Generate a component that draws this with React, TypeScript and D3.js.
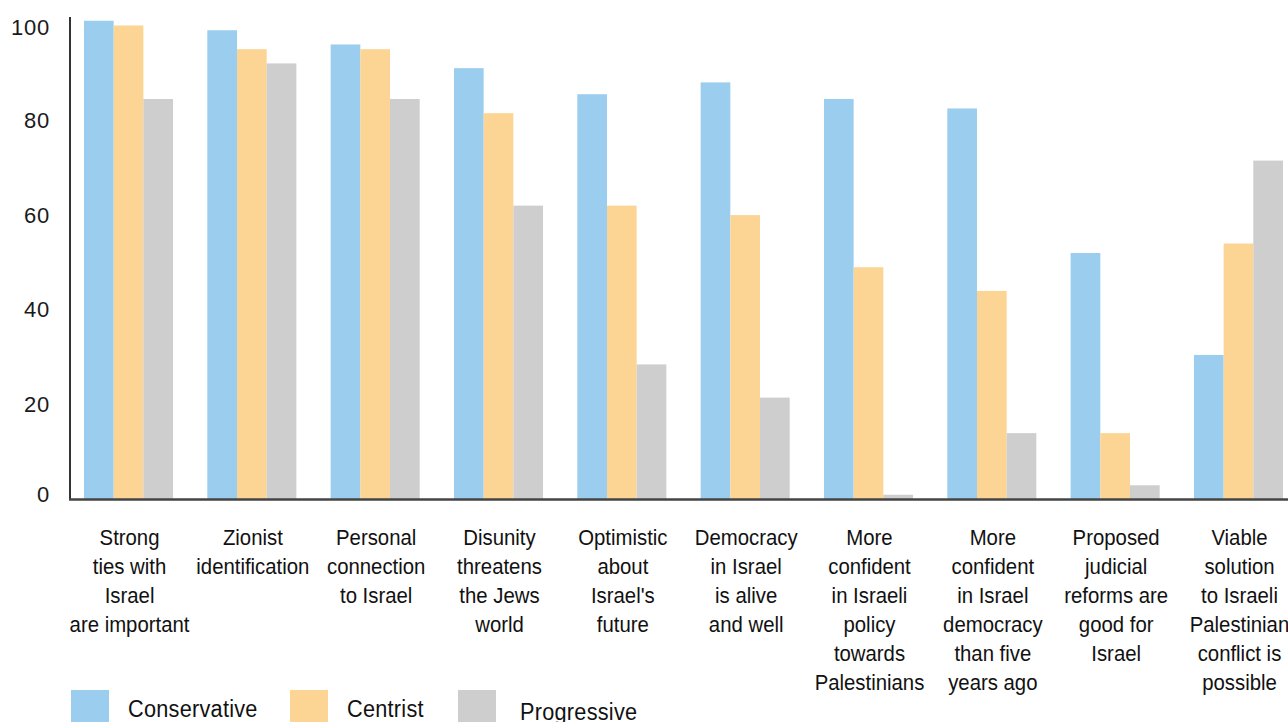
import React from "react";
import * as d3 from "d3";

const categories: string[][] = [
  ["Strong", "ties with", "Israel", "are important"],
  ["Zionist", "identification"],
  ["Personal", "connection", "to Israel"],
  ["Disunity", "threatens", "the Jews", "world"],
  ["Optimistic", "about", "Israel's", "future"],
  ["Democracy", "in Israel", "is alive", "and well"],
  ["More", "confident", "in Israeli", "policy", "towards", "Palestinians"],
  ["More", "confident", "in Israel", "democracy", "than five", "years ago"],
  ["Proposed", "judicial", "reforms are", "good for", "Israel"],
  ["Viable", "solution", "to Israeli", "Palestinian", "conflict is", "possible"],
];

const seriesNames = ["Conservative", "Centrist", "Progressive"];
const seriesColors = ["#9BCDEE", "#FCD493", "#CECECE"];

const conservative = [101, 99, 96, 91, 85.5, 88, 84.5, 82.5, 52, 30.5];
const centrist = [100, 95, 95, 81.5, 62, 60, 49, 44, 14, 54];
const progressive = [84.5, 92, 84.5, 62, 28.5, 21.5, 1, 14, 3, 71.5];

const yTicks = [0, 20, 40, 60, 80, 100];

const W = 1288;
const H = 722;
const NARROW = 0.885;

export default function App() {
  const seriesValues = [conservative, centrist, progressive];
  const idx = categories.map((_, i) => i);

  const x0 = d3
    .scaleBand<number>()
    .domain(idx)
    .range([84, 1283])
    .paddingInner(0.278)
    .paddingOuter(0);
  const x1 = d3
    .scaleBand<number>()
    .domain([0, 1, 2])
    .range([0, x0.bandwidth()])
    .padding(0);
  const y = d3.scaleLinear().domain([0, 100]).range([499.5, 25.5]);

  const font = "'Liberation Sans', Arial, sans-serif";

  return (
    <svg
      width={W}
      height={H}
      style={{ position: "absolute", left: 0, top: 0, background: "#fff" }}
    >
      {/* bars */}
      {idx.map((ci) => (
        <g key={ci} transform={`translate(${x0(ci)},0)`}>
          {seriesValues.map((vals, si) => (
            <rect
              key={si}
              x={x1(si)}
              y={y(vals[ci])}
              width={x1.bandwidth()}
              height={y(0) - y(vals[ci])}
              fill={seriesColors[si]}
            />
          ))}
        </g>
      ))}

      {/* axes */}
      <line x1={70} x2={70} y1={17} y2={y(0)} stroke="#333" strokeWidth={2} />
      <line x1={69} x2={W} y1={y(0)} y2={y(0)} stroke="#444" strokeWidth={2.5} />

      {/* y tick labels */}
      {yTicks.map((t) => (
        <text
          key={t}
          x={50}
          y={Math.max(27, Math.min(494.5, y(t)))}
          textAnchor="end"
          dominantBaseline="central"
          fontFamily={font}
          fontSize={22}
          letterSpacing={0.8}
          fill="#1a1a1a"
        >
          {t}
        </text>
      ))}

      {/* category labels */}
      {categories.map((lines, ci) => {
        const cx = (x0(ci) as number) + x0.bandwidth() / 2 + 1;
        return (
          <g key={ci} transform={`translate(${cx},0) scale(${NARROW},1)`}>
            <text
              x={0}
              y={545}
              textAnchor="middle"
              fontFamily={font}
              fontSize={23}
              fill="#111"
            >
              {lines.map((l, li) => (
                <tspan key={li} x={0} dy={li === 0 ? 0 : 29}>
                  {l}
                </tspan>
              ))}
            </text>
          </g>
        );
      })}

      {/* legend */}
      {seriesNames.map((name, si) => {
        const sx = [71, 290, 458][si];
        const tx = [128, 347, 520][si];
        const ty = [717, 717, 720][si];
        return (
          <g key={name}>
            <rect x={sx} y={690} width={38} height={40} fill={seriesColors[si]} />
            <g transform={`translate(${tx},${ty}) scale(${NARROW},1)`}>
              <text x={0} y={0} fontFamily={font} fontSize={24.5} letterSpacing={0.3} fill="#111">
                {name}
              </text>
            </g>
          </g>
        );
      })}
    </svg>
  );
}
